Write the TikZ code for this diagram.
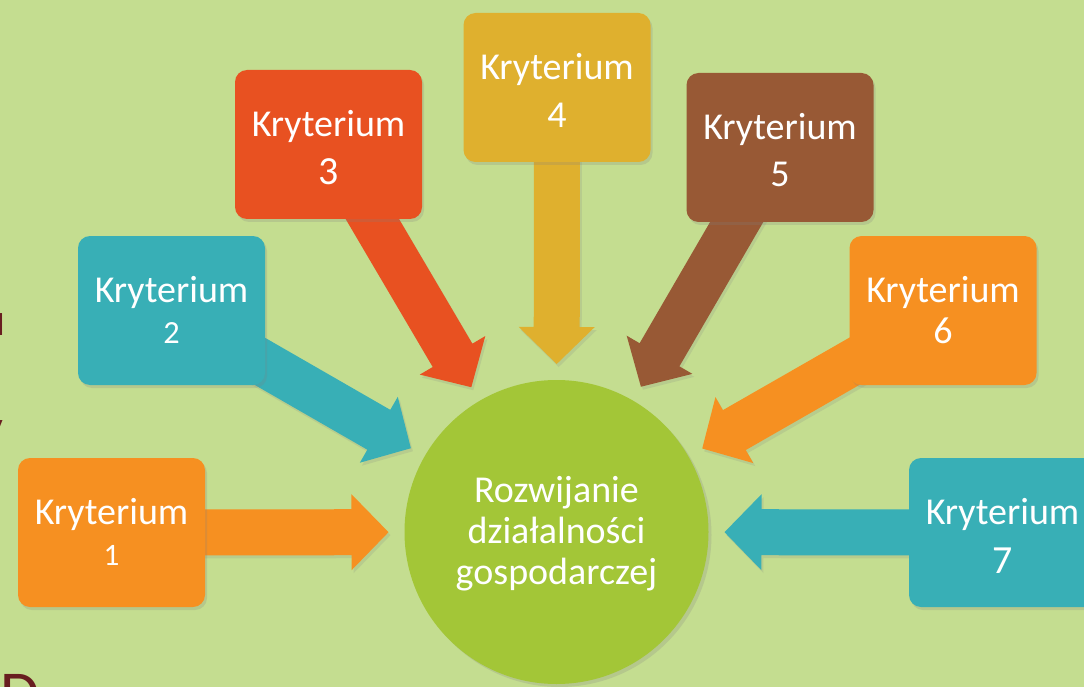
\documentclass[tikz,border=0pt]{standalone}
\usepackage{fontspec}
\usepackage{graphicx}
\setmainfont{Carlito}
\usetikzlibrary{calc,shadows}
\pgfdeclarelayer{bgl}
\pgfdeclarelayer{arrows}
\pgfsetlayers{bgl,arrows,main}
\definecolor{bg}{RGB}{196,221,144}
\definecolor{korange}{RGB}{246,144,33}
\definecolor{kteal}{RGB}{56,175,182}
\definecolor{kred}{RGB}{232,81,33}
\definecolor{kgold}{RGB}{223,176,46}
\definecolor{kbrown}{RGB}{152,89,53}
\definecolor{kgreen}{RGB}{163,198,55}
\definecolor{kmaroon}{RGB}{104,30,32}
% old-style looking digits
\newcommand{\sdig}[3]{\raisebox{#2pt}{\scalebox{#1}{#3}}}
\newcommand{\osd}[1]{\ifcase#1\or\sdig{0.82}{0}{1}\or\sdig{0.85}{0}{2}\or\sdig{1.05}{-7}{3}\or
  \sdig{1.0}{-7}{4}\or\sdig{1.0}{-6}{5}\or\sdig{1.0}{0}{6}\or\sdig{1.05}{-8}{7}\fi}
\newcommand{\blockarr}[3]{%
  \coordinate (hb) at ($(#3)!37pt!(#2)$);
  \fill[#1, arrsh] ($(#2)!23pt!90:(#3)$) -- ($(hb)!23pt!90:(#3)$) -- ($(hb)!38pt!90:(#3)$) -- (#3)
     -- ($(hb)!38pt!-90:(#3)$) -- ($(hb)!23pt!-90:(#3)$) -- ($(#2)!23pt!-90:(#3)$) -- cycle;}
\begin{document}
\begin{tikzpicture}[x=1pt,y=-1pt,
  kbox/.style={rectangle, rounded corners=12pt, minimum width=187pt, minimum height=149pt, inner sep=0pt,
    drop shadow={shadow xshift=2pt, shadow yshift=-3pt, opacity=0.22}},
  ktext/.style={text=white, align=center, font=\fontsize{38}{41}\selectfont, inner sep=0pt},
  arrsh/.style={drop shadow={shadow xshift=2pt, shadow yshift=-3pt, opacity=0.18}},
  ghost/.style={text=kmaroon, inner sep=0pt},
]
\useasboundingbox (0,0) rectangle (1084,687);
\begin{pgfonlayer}{bgl}
\fill[bg] (0,0) rectangle (1084,687);
\end{pgfonlayer}
% partial letters at the left edge
\node[ghost, font=\fontsize{46}{48}\selectfont, anchor=base east] (g1) at (6,335) {u};
\node[ghost, font=\fontsize{46}{48}\selectfont, anchor=base east] (g2) at (4,442) {y};
\node[ghost, font=\fontsize{64}{66}\selectfont, anchor=base west] (g3) at (0,715) {D};
% centre circle
\node[circle, fill=kgreen, minimum size=304pt, inner sep=0pt,
  drop shadow={shadow xshift=3pt, shadow yshift=-3pt, opacity=0.22}] (c) at (556.5,532) {};
\node[ktext] (ct) at ($(c.center)+(0,5)$) {Rozwijanie\\działalności\\gospodarczej\strut};
% boxes
\node[kbox, fill=korange] (k1) at (111.5,532.5) {};
\node[kbox, fill=kteal]   (k2) at (171.5,310.5) {};
\node[kbox, fill=kred]    (k3) at (328.5,144.5) {};
\node[kbox, fill=kgold]   (k4) at (557,87.5) {};
\node[kbox, fill=kbrown]  (k5) at (780,147.5) {};
\node[kbox, fill=korange] (k6) at (943,310.5) {};
\node[kbox, fill=kteal]   (k7) at (1002.5,532.5) {};
\foreach \i in {1,...,7}{
  \node[ktext] (k\i t) at ($(k\i.center)+(0,6)$) {Kryterium\\\osd{\i}\strut};
  \coordinate (t\i) at ($(c.center)!168pt!(k\i.center)$);
}
% block arrows
\begin{pgfonlayer}{arrows}
\blockarr{korange}{k1.center}{t1}
\blockarr{kteal}{k2.center}{t2}
\blockarr{kred}{k3.center}{t3}
\blockarr{kgold}{k4.center}{t4}
\blockarr{kbrown}{k5.center}{t5}
\blockarr{korange}{k6.center}{t6}
\blockarr{kteal}{k7.center}{t7}
\end{pgfonlayer}
\end{tikzpicture}
\end{document}
